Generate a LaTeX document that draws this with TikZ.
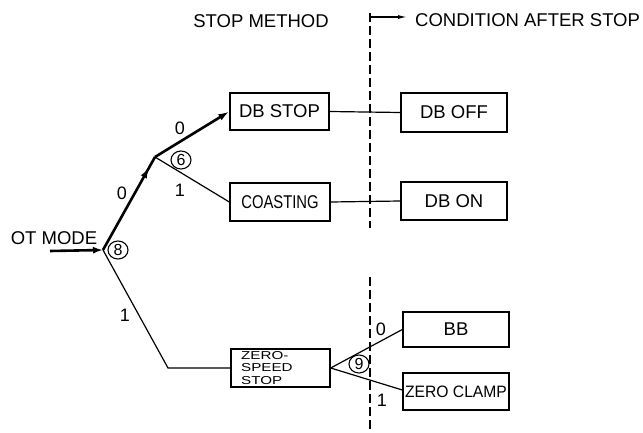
\documentclass[tikz,border=0pt]{standalone}
\usepackage{fontspec}
\setmainfont{Liberation Sans}
\usetikzlibrary{arrows.meta,decorations.markings,shapes.geometric}
\begin{document}
\begin{tikzpicture}[x=1pt,y=-1pt,
  box/.style={draw,line width=1.4pt,inner sep=0pt,minimum width=100pt,minimum height=37pt,font=\fontsize{18.5}{18.5}\selectfont},
  rbox/.style={box,minimum width=106pt},
  thin/.style={line width=1.2pt},
  heavy/.style={line width=2.6pt},
  lbl/.style={font=\fontsize{18}{18}\selectfont,inner sep=0pt},
  cnum/.style={draw,ellipse,line width=1.1pt,minimum width=20pt,minimum height=18pt,inner sep=0pt,font=\fontsize{16}{16}\selectfont},
  head/.style={font=\fontsize{18.5}{18.5}\selectfont,inner sep=0pt},
  sep/.style={line width=1.2pt,dash pattern=on 9pt off 4pt}]
\useasboundingbox (0,0) rectangle (643,433);

% headings
\node[head] (hstop) at (261,21.5) {STOP METHOD};
\node[head,anchor=west] (hcond) at (415,20) {CONDITION AFTER STOP};

% separator
\coordinate (dtop) at (370,13);
\coordinate (dg1) at (370,228);
\coordinate (dg2) at (370,277);
\coordinate (dbot) at (370,433);
\draw[sep] (dtop) -- (dg1);
\draw[sep] (dg2) -- (dbot);
\coordinate (ha) at (370,17);
\coordinate (hb) at (407,17);
\draw[thin,-{Latex[length=9pt,width=4pt]}] (ha) -- (hb);

% boxes
\node[box,minimum width=99pt] (dbstop) at (279.5,111.5) {DB STOP};
\node[box,minimum height=38pt] (coast) at (280,202) {\scalebox{0.8}[1]{COASTING}};
\node[box,minimum width=99pt,minimum height=38pt] (zs) at (280.5,368) {};
\node[anchor=north west,inner sep=0pt,align=left,font=\fontsize{11.5}{12.6}\selectfont] (zstext) at (241,351) {\scalebox{1.32}[1]{ZERO-}\\\scalebox{1.32}[1]{SPEED}\\\scalebox{1.32}[1]{STOP}};
\node[rbox,minimum height=39pt] (dboff) at (454,112.5) {DB OFF};
\node[rbox,minimum height=38pt] (dbon) at (454,201) {DB ON};
\node[rbox,minimum height=35pt] (bb) at (456,329.5) {BB};
\node[rbox,minimum height=37pt,font=\fontsize{16.5}{16.5}\selectfont] (zc) at (456,391.5) {\scalebox{0.95}[1]{ZERO CLAMP}};

% OT mode
\node[head] (ot) at (54,238) {OT MODE};
\coordinate (otin) at (50,251);
\coordinate (j8) at (103,250);
\coordinate (j6) at (155,157);
\coordinate (bend) at (168,368);

\draw[heavy,-{Latex[length=10pt,width=7pt]}] (otin) -- (j8);
\draw[heavy,postaction={decorate},decoration={markings,mark=at position 0.88 with {\arrow{Latex[length=10pt,width=7pt]}}}] (j8) -- (j6);
\draw[heavy,-{Latex[length=11pt,width=7pt]}] (j6) -- (dbstop.west);
\draw[thin] (j6) -- (coast.west);
\draw[thin] (j8) -- (bend) -- (zs.west);
\draw[thin] (dbstop.east) -- (dboff.west);
\draw[thin] (coast.east) -- (dbon.west);
\draw[thin] (zs.east) -- (bb.west);
\draw[thin] (zs.east) -- ([yshift=1.5pt]zc.west);

% branch labels
\node[lbl] (l60) at (180,128) {0};
\node[lbl] (l61) at (180,190) {1};
\node[lbl] (l80) at (122,193) {0};
\node[lbl] (l81) at (125,315) {1};
\node[lbl] (l90) at (381,329) {0};
\node[lbl] (l91) at (382,400) {1};

% circled numbers
\node[cnum] (c6) at (181,160) {6};
\node[cnum] (c8) at (118,250) {8};
\node[cnum] (c9) at (359,364) {9};
\end{tikzpicture}
\end{document}
